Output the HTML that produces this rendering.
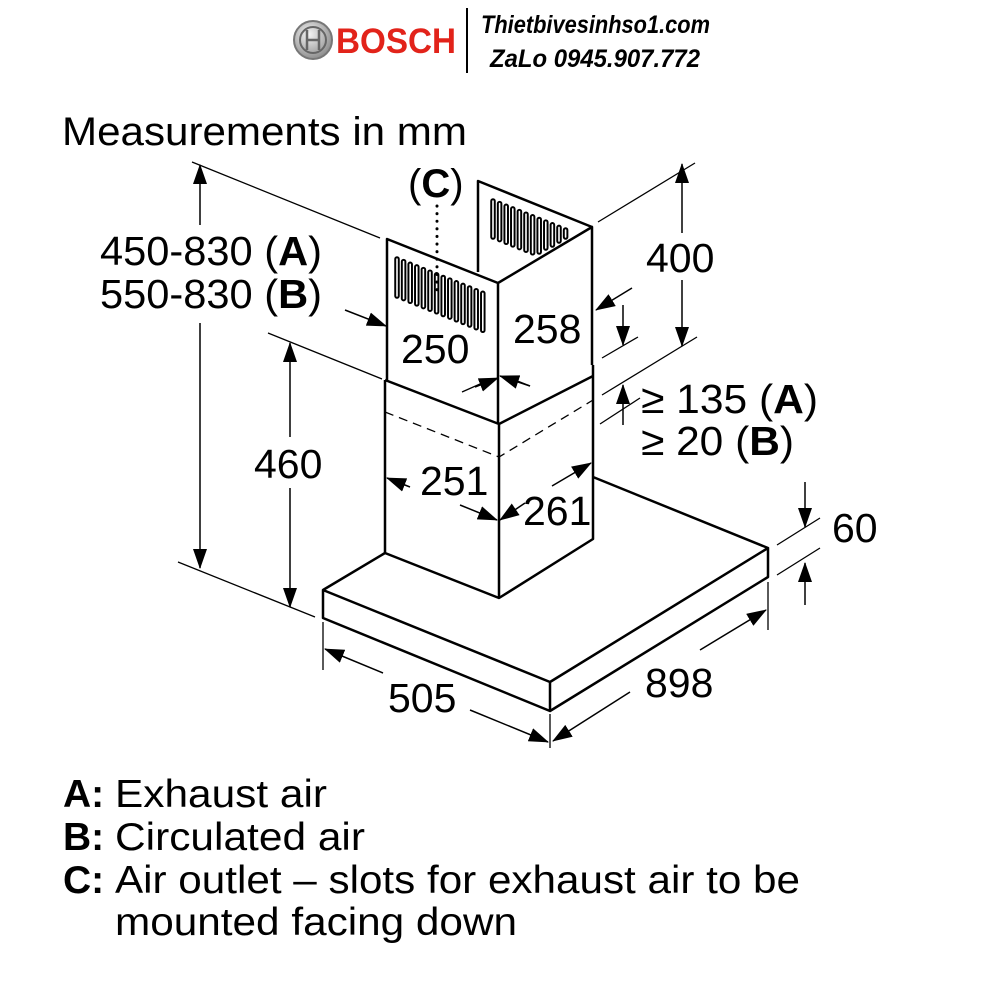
<!DOCTYPE html>
<html><head><meta charset="utf-8"><style>
html,body{margin:0;padding:0;background:#fff;}
svg{display:block;}
text{font-family:"Liberation Sans",sans-serif;fill:#000;}
</style></head><body>
<svg width="1000" height="1000" viewBox="0 0 1000 1000" xmlns="http://www.w3.org/2000/svg">
<defs>
<marker id="a" markerUnits="userSpaceOnUse" markerWidth="20" markerHeight="14" refX="19" refY="7" orient="auto">
<path d="M0,0 L20,7 L0,14 z" fill="#000"/></marker>
<radialGradient id="g" cx="0.4" cy="0.35" r="0.7"><stop offset="0" stop-color="#f4f4f4"/><stop offset="1" stop-color="#888"/></radialGradient>
</defs>

<!-- header -->
<circle cx="313" cy="40" r="19" fill="url(#g)" stroke="#777" stroke-width="2"/>
<circle cx="313" cy="40" r="13" fill="none" stroke="#666" stroke-width="2"/>
<path d="M307,30 V50 M319,30 V50 M307,40 H319" stroke="#666" stroke-width="2.5" fill="none"/>
<text x="336" y="53" font-size="35" font-weight="bold" style="fill:#e2231a" textLength="120" lengthAdjust="spacingAndGlyphs">BOSCH</text>
<line x1="467" y1="8" x2="467" y2="73" stroke="#000" stroke-width="2"/>
<text x="481" y="33" font-size="25" font-weight="bold" font-style="italic" textLength="229" lengthAdjust="spacingAndGlyphs">Thietbivesinhso1.com</text>
<text x="490" y="67" font-size="25" font-weight="bold" font-style="italic" textLength="210" lengthAdjust="spacingAndGlyphs">ZaLo 0945.907.772</text>

<text x="62" y="145" font-size="40" textLength="405" lengthAdjust="spacingAndGlyphs">Measurements in mm</text>

<g fill="none" stroke="#000" stroke-width="2.5" stroke-linejoin="round">
<path d="M323,590 L385,553 M593,477 L768,548 L550,682 L323,590 L323,618 L550,711 L768,577 L768,548 M550,682 L550,711"/>
<path d="M385,553 L385,380 M385,380 L499,424 L593,376 M499,424 L499,598 M385,553 L499,598 L593,539 L593,365"/>
<path d="M387,380 L387,239 L498,283 L592,227 L592,365 M498,283 L498,424 M478,272 L478,181 L592,227"/>
</g>
<path d="M385,412 L499,457 L593,400" fill="none" stroke="#000" stroke-width="1.3" stroke-dasharray="9,6"/>

<!-- slots -->
<g stroke-linecap="round">
<g stroke="#000" stroke-width="5.5">
<line x1="397" y1="259" x2="397" y2="296"/><line x1="403.6" y1="261.6" x2="403.6" y2="298.6"/><line x1="410.2" y1="264.3" x2="410.2" y2="301.3"/><line x1="416.8" y1="266.9" x2="416.8" y2="303.9"/><line x1="423.4" y1="269.6" x2="423.4" y2="306.6"/><line x1="430" y1="272.2" x2="430" y2="309.2"/><line x1="436.6" y1="274.8" x2="436.6" y2="311.8"/><line x1="443.2" y1="277.5" x2="443.2" y2="314.5"/><line x1="449.8" y1="280.1" x2="449.8" y2="317.1"/><line x1="456.4" y1="282.8" x2="456.4" y2="319.8"/><line x1="463" y1="285.4" x2="463" y2="322.4"/><line x1="469.6" y1="288" x2="469.6" y2="325"/><line x1="476.2" y1="290.7" x2="476.2" y2="327.7"/><line x1="482.8" y1="293.3" x2="482.8" y2="330.3"/>
<line x1="493" y1="201" x2="493" y2="237"/><line x1="499.6" y1="203.6" x2="499.6" y2="239.6"/><line x1="506.2" y1="206.3" x2="506.2" y2="242.3"/><line x1="512.8" y1="208.9" x2="512.8" y2="244.9"/><line x1="519.4" y1="211.6" x2="519.4" y2="247.6"/><line x1="526" y1="214.2" x2="526" y2="250.2"/><line x1="532.6" y1="216.8" x2="532.6" y2="252.8"/><line x1="539.2" y1="219.5" x2="539.2" y2="252"/><line x1="545.8" y1="222.1" x2="545.8" y2="248"/><line x1="552.4" y1="224.8" x2="552.4" y2="245"/><line x1="559" y1="227.4" x2="559" y2="241"/><line x1="565.6" y1="230" x2="565.6" y2="237"/>
</g>
<g stroke="#fff" stroke-width="1.6">
<line x1="397" y1="259" x2="397" y2="296"/><line x1="403.6" y1="261.6" x2="403.6" y2="298.6"/><line x1="410.2" y1="264.3" x2="410.2" y2="301.3"/><line x1="416.8" y1="266.9" x2="416.8" y2="303.9"/><line x1="423.4" y1="269.6" x2="423.4" y2="306.6"/><line x1="430" y1="272.2" x2="430" y2="309.2"/><line x1="436.6" y1="274.8" x2="436.6" y2="311.8"/><line x1="443.2" y1="277.5" x2="443.2" y2="314.5"/><line x1="449.8" y1="280.1" x2="449.8" y2="317.1"/><line x1="456.4" y1="282.8" x2="456.4" y2="319.8"/><line x1="463" y1="285.4" x2="463" y2="322.4"/><line x1="469.6" y1="288" x2="469.6" y2="325"/><line x1="476.2" y1="290.7" x2="476.2" y2="327.7"/><line x1="482.8" y1="293.3" x2="482.8" y2="330.3"/>
<line x1="493" y1="201" x2="493" y2="237"/><line x1="499.6" y1="203.6" x2="499.6" y2="239.6"/><line x1="506.2" y1="206.3" x2="506.2" y2="242.3"/><line x1="512.8" y1="208.9" x2="512.8" y2="244.9"/><line x1="519.4" y1="211.6" x2="519.4" y2="247.6"/><line x1="526" y1="214.2" x2="526" y2="250.2"/><line x1="532.6" y1="216.8" x2="532.6" y2="252.8"/><line x1="539.2" y1="219.5" x2="539.2" y2="252"/><line x1="545.8" y1="222.1" x2="545.8" y2="248"/><line x1="552.4" y1="224.8" x2="552.4" y2="245"/><line x1="559" y1="227.4" x2="559" y2="241"/><line x1="565.6" y1="230" x2="565.6" y2="237"/>
</g>
</g>
<line x1="437" y1="206" x2="437" y2="292" stroke="#000" stroke-width="3" stroke-dasharray="0.1,7.5" stroke-linecap="round"/>

<g stroke="#000" stroke-width="1.3" fill="none">
<line x1="192" y1="162" x2="380" y2="238"/>
<line x1="178" y1="562" x2="315" y2="617"/>
<line x1="268" y1="333" x2="382" y2="379"/>
<line x1="598" y1="222" x2="695" y2="163"/>
<line x1="602" y1="395" x2="697" y2="337"/>
<line x1="602" y1="358" x2="638" y2="337"/>
<line x1="777" y1="545" x2="820" y2="518"/>
<line x1="777" y1="575" x2="820" y2="548"/>
<line x1="323" y1="622" x2="323" y2="670"/>
<line x1="550" y1="714" x2="550" y2="748"/>
<line x1="768" y1="582" x2="768" y2="630"/>
<line x1="600" y1="424" x2="640" y2="398"/>
<line x1="510" y1="378" x2="530" y2="386"/>
<line x1="462" y1="392" x2="480" y2="384"/>
</g>
<g stroke="#000" stroke-width="1.5" fill="none" marker-end="url(#a)">
<line x1="200" y1="225" x2="200" y2="165"/>
<line x1="200" y1="323" x2="200" y2="568"/>
<line x1="290" y1="437" x2="290" y2="343"/>
<line x1="290" y1="488" x2="290" y2="607"/>
<line x1="682" y1="233" x2="682" y2="164"/>
<line x1="682" y1="280" x2="682" y2="346"/>
<line x1="623" y1="305" x2="623" y2="345"/>
<line x1="632" y1="288" x2="596" y2="310"/>
<line x1="623" y1="425" x2="623" y2="385"/>
<line x1="345" y1="310" x2="386" y2="326"/>
<line x1="475" y1="387" x2="498" y2="378"/>
<line x1="530" y1="386" x2="500" y2="376"/>
<line x1="805" y1="482" x2="805" y2="527"/>
<line x1="805" y1="605" x2="805" y2="563"/>
<line x1="410" y1="487" x2="387" y2="478"/>
<line x1="460" y1="505" x2="497" y2="520"/>
<line x1="525" y1="503" x2="500" y2="520"/>
<line x1="552" y1="486" x2="591" y2="463"/>
<line x1="383" y1="673" x2="325" y2="649"/>
<line x1="470" y1="710" x2="548" y2="742"/>
<line x1="700" y1="650" x2="766" y2="610"/>
<line x1="630" y1="692" x2="553" y2="741"/>
</g>

<text x="408" y="197" font-size="40">(<tspan font-weight="bold">C</tspan>)</text>
<text x="100" y="265" font-size="41" textLength="222" lengthAdjust="spacingAndGlyphs">450-830 (<tspan font-weight="bold">A</tspan>)</text>
<text x="100" y="308" font-size="41" textLength="222" lengthAdjust="spacingAndGlyphs">550-830 (<tspan font-weight="bold">B</tspan>)</text>
<text x="254" y="478" font-size="41">460</text>
<text x="646" y="272" font-size="41">400</text>
<text x="513" y="343" font-size="41">258</text>
<text x="401" y="363" font-size="41">250</text>
<text x="420" y="495" font-size="41">251</text>
<text x="523" y="525" font-size="41">261</text>
<text x="641" y="413" font-size="41" textLength="177" lengthAdjust="spacingAndGlyphs">≥ 135 (<tspan font-weight="bold">A</tspan>)</text>
<text x="641" y="455" font-size="41" textLength="153" lengthAdjust="spacingAndGlyphs">≥ 20 (<tspan font-weight="bold">B</tspan>)</text>
<text x="832" y="542" font-size="41">60</text>
<text x="645" y="697" font-size="41">898</text>
<text x="388" y="712" font-size="41">505</text>

<text x="63" y="807" font-size="39" font-weight="bold">A:</text>
<text x="115" y="807" font-size="39" textLength="212" lengthAdjust="spacingAndGlyphs">Exhaust air</text>
<text x="63" y="850" font-size="39" font-weight="bold">B:</text>
<text x="115" y="850" font-size="39" textLength="250" lengthAdjust="spacingAndGlyphs">Circulated air</text>
<text x="63" y="893" font-size="39" font-weight="bold">C:</text>
<text x="115" y="893" font-size="39" textLength="685" lengthAdjust="spacingAndGlyphs">Air outlet – slots for exhaust air to be</text>
<text x="115" y="935" font-size="39" textLength="402" lengthAdjust="spacingAndGlyphs">mounted facing down</text>
</svg>
</body></html>
